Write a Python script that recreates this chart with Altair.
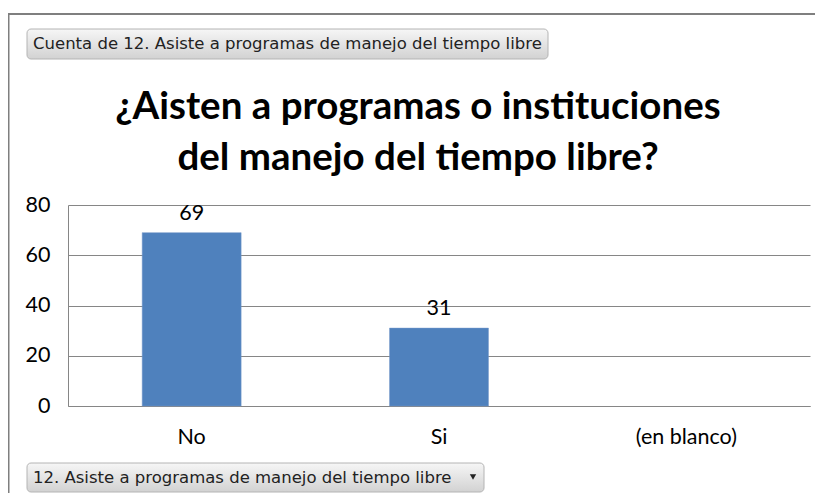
import altair as alt
import pandas as pd

categories = ["No", "Si", "(en blanco)"]
counts = [69, 31, None]
title_lines = ["¿Aisten a programas o instituciones", "del manejo del tiempo libre?"]
field_button = "Cuenta de 12. Asiste a programas de manejo del tiempo libre"
axis_button = "12. Asiste a programas de manejo del tiempo libre"
y_ticks = [0, 20, 40, 60, 80]

bars_df = pd.DataFrame({"cat": categories, "n": counts})

BAR = "#4F81BD"
GRID = "#868686"
W, H = 742, 201

x_enc = alt.X("cat:N", sort=categories, title=None,
              scale=alt.Scale(paddingInner=0.6, paddingOuter=0.3),
              axis=alt.Axis(labelAngle=0, ticks=False, labelPadding=20,
                            labelFontSize=21.5, labelFont="Lato", labelColor="#000",
                            domainColor=GRID, domainWidth=1))
y_enc = alt.Y("n:Q", title=None, scale=alt.Scale(domain=[0, 80]),
              axis=alt.Axis(values=y_ticks, ticks=False, labelPadding=18,
                            labelFontSize=21.5, labelFont="Lato", labelColor="#000",
                            gridColor=GRID, gridWidth=1, domainColor=GRID))

bars = alt.Chart(bars_df).mark_bar(color=BAR, stroke="#7396c8", strokeWidth=0.5).encode(
    x=x_enc, y=y_enc)

labels = alt.Chart(bars_df).mark_text(baseline="alphabetic", dy=-13, fontSize=21.5,
                                      font="Lato", color="#000").encode(
    x=alt.X("cat:N", sort=categories), y="n:Q", text="n:Q")

one = pd.DataFrame({"k": [0]})

frame_v = alt.Chart(one).mark_rule(color="#7f7f7f", strokeWidth=2).encode(
    x=alt.value(-59.5), y=alt.value(-192), y2=alt.value(300))
frame_h = alt.Chart(one).mark_rule(color="#7f7f7f", strokeWidth=2).encode(
    x=alt.value(-60), x2=alt.value(760), y=alt.value(-191))

grad = alt.LinearGradient(gradient="linear", x1=0, y1=0, x2=0, y2=1,
                          stops=[alt.GradientStop(color="#f6f6f6", offset=0),
                                 alt.GradientStop(color="#d2d2d2", offset=1)])

btn1 = alt.Chart(one).mark_rect(color=grad, stroke="#b4b4b4", strokeWidth=1,
                                cornerRadius=4).encode(
    x=alt.value(-41), x2=alt.value(480), y=alt.value(-176), y2=alt.value(-146))
btn2 = alt.Chart(one).mark_rect(color=grad, stroke="#b4b4b4", strokeWidth=1,
                                cornerRadius=4).encode(
    x=alt.value(-41), x2=alt.value(416), y=alt.value(258), y2=alt.value(287))

btn1_text = alt.Chart(pd.DataFrame({"t": [field_button]})).mark_text(
    align="left", baseline="middle", fontSize=16.5, font="DejaVu Sans", color="#222").encode(
    x=alt.value(-35), y=alt.value(-161), text="t:N")
btn2_text = alt.Chart(pd.DataFrame({"t": [axis_button]})).mark_text(
    align="left", baseline="middle", fontSize=16.5, font="DejaVu Sans", color="#222").encode(
    x=alt.value(-35), y=alt.value(273), text="t:N")
arrow = alt.Chart(one).mark_point(shape="triangle-down", filled=True, color="#222",
                                  size=40, opacity=1).encode(
    x=alt.value(405), y=alt.value(272))

title1 = alt.Chart(pd.DataFrame({"t": [title_lines[0]]})).mark_text(
    align="center", baseline="alphabetic", fontSize=38.5, fontWeight="bold", font="Lato",
    color="#000").encode(x=alt.value(350), y=alt.value(-86), text="t:N")
title2 = alt.Chart(pd.DataFrame({"t": [title_lines[1]]})).mark_text(
    align="center", baseline="alphabetic", fontSize=38.5, fontWeight="bold", font="Lato",
    color="#000").encode(x=alt.value(350), y=alt.value(-35), text="t:N")

chart = alt.layer(frame_v, frame_h, btn1, btn2, btn1_text, btn2_text, arrow,
                  title1, title2, bars, labels).properties(
    width=W, height=H,
    autosize=alt.AutoSizeParams(type="none"),
    padding={"left": 60, "top": 197, "right": 5, "bottom": 87},
    background="white",
).configure_view(stroke=None)

chart.save("out.html", embed_options={"renderer": "svg", "actions": False})
